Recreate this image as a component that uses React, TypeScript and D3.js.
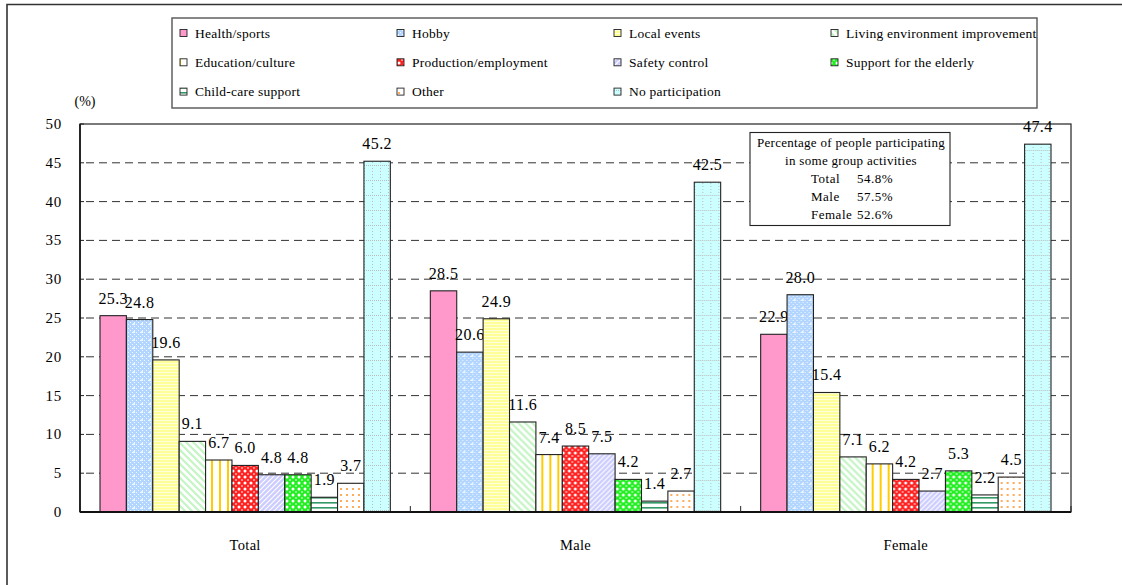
import React from "react";
import * as d3 from "d3";

const categories = ["Total", "Male", "Female"];
const seriesNames = [
  "Health/sports",
  "Hobby",
  "Local events",
  "Living environment improvement",
  "Education/culture",
  "Production/employment",
  "Safety control",
  "Support for the elderly",
  "Child-care support",
  "Other",
  "No participation",
];
const totalValues = [25.3, 24.8, 19.6, 9.1, 6.7, 6.0, 4.8, 4.8, 1.9, 3.7, 45.2];
const maleValues = [28.5, 20.6, 24.9, 11.6, 7.4, 8.5, 7.5, 4.2, 1.4, 2.7, 42.5];
const femaleValues = [22.9, 28.0, 15.4, 7.1, 6.2, 4.2, 2.7, 5.3, 2.2, 4.5, 47.4];
const yTicks = [0, 5, 10, 15, 20, 25, 30, 35, 40, 45, 50];
const boxTitle = ["Percentage of people participating", "in some group activities"];
const boxLabels = ["Total", "Male", "Female"];
const boxValues = ["54.8%", "57.5%", "52.6%"];

const groupValues = [totalValues, maleValues, femaleValues];
const patternIds = seriesNames.map((_, i) => `pat${i}`);

const FONT = "'Liberation Serif', 'Times New Roman', serif";

function Patterns() {
  return (
    <defs>
      <pattern id="pat0" width={4} height={4} patternUnits="userSpaceOnUse">
        <rect width={4} height={4} fill="#FF99CC" />
      </pattern>
      <pattern id="pat1" width={8} height={8} patternUnits="userSpaceOnUse">
        <rect width={8} height={8} fill="#B2D6FF" />
        <rect x={0} y={0} width={1} height={1} fill="#fff" opacity={0.8} />
        <rect x={2} y={2} width={1} height={1} fill="#fff" opacity={0.8} />
        <rect x={4} y={0} width={1} height={1} fill="#fff" opacity={0.8} />
        <rect x={6} y={2} width={1} height={1} fill="#fff" opacity={0.8} />
        <rect x={0} y={4} width={1} height={1} fill="#fff" opacity={0.8} />
        <rect x={4} y={4} width={1} height={1} fill="#fff" opacity={0.8} />
        <rect x={2} y={6} width={1} height={1} fill="#fff" opacity={0.8} />
        <rect x={6} y={6} width={1} height={1} fill="#fff" opacity={0.8} />
        <path d="M5,4 h2 M6,3 v2" stroke="#fff" strokeWidth={1} />
      </pattern>
      <pattern id="pat2" width={4} height={3} patternUnits="userSpaceOnUse">
        <rect width={4} height={3} fill="#FFFF99" />
        <rect y={0} width={4} height={1} fill="#FFFFD8" />
      </pattern>
      <pattern id="pat3" width={7} height={7} patternUnits="userSpaceOnUse">
        <rect width={7} height={7} fill="#fff" />
        <path d="M-1,-1 L8,8 M-1,6 L1,8 M6,-1 L8,1" stroke="#C4F5C4" strokeWidth={2.2} />
      </pattern>
      <pattern id="pat4" width={8} height={4} patternUnits="userSpaceOnUse">
        <rect width={8} height={4} fill="#fff" />
        <rect x={3} width={2} height={4} fill="#FFCC00" />
      </pattern>
      <pattern id="pat5" width={6} height={6} patternUnits="userSpaceOnUse">
        <rect width={6} height={6} fill="#FF2020" />
        <circle cx={3} cy={3} r={1.5} fill="#fff" />
        <circle cx={0} cy={0} r={1} fill="#FFB0B0" />
        <circle cx={6} cy={0} r={1} fill="#FFB0B0" />
        <circle cx={0} cy={6} r={1} fill="#FFB0B0" />
        <circle cx={6} cy={6} r={1} fill="#FFB0B0" />
      </pattern>
      <pattern id="pat6" width={5} height={5} patternUnits="userSpaceOnUse">
        <rect width={5} height={5} fill="#CCCCFF" />
        <path d="M-1,6 L6,-1 M-1,1 L1,-1 M4,6 L6,4" stroke="#fff" strokeWidth={1.2} />
      </pattern>
      <pattern id="pat7" width={6} height={6} patternUnits="userSpaceOnUse">
        <rect width={6} height={6} fill="#22EE22" />
        <circle cx={3} cy={3} r={1.5} fill="#fff" />
        <circle cx={0} cy={0} r={1} fill="#B0FFB0" />
        <circle cx={6} cy={0} r={1} fill="#B0FFB0" />
        <circle cx={0} cy={6} r={1} fill="#B0FFB0" />
        <circle cx={6} cy={6} r={1} fill="#B0FFB0" />
      </pattern>
      <pattern id="pat8" width={6} height={5} patternUnits="userSpaceOnUse">
        <rect width={6} height={5} fill="#fff" />
        <rect y={2} width={6} height={1.6} fill="#339966" />
      </pattern>
      <pattern id="pat9" width={6} height={6} patternUnits="userSpaceOnUse">
        <rect width={6} height={6} fill="#fff" />
        <circle cx={3} cy={3} r={1.1} fill="#FF9933" />
      </pattern>
      <pattern id="pat10" width={8} height={15} patternUnits="userSpaceOnUse">
        <rect width={8} height={15} fill="#CCFFFF" />
        <rect x={0} y={0} width={1} height={1} fill="#BBBBBB" />
        <rect x={2} y={0} width={1} height={1} fill="#BBBBBB" />
        <rect x={4} y={0} width={1} height={1} fill="#BBBBBB" />
        <rect x={6} y={0} width={1} height={1} fill="#BBBBBB" />
        <rect x={4} y={3} width={1} height={1} fill="#BBBBBB" />
        <rect x={4} y={6} width={1} height={1} fill="#BBBBBB" />
        <rect x={4} y={9} width={1} height={1} fill="#BBBBBB" />
        <rect x={4} y={12} width={1} height={1} fill="#BBBBBB" />
      </pattern>
    </defs>
  );
}

export default function App() {
  const W = 1122;
  const H = 585;
  const plot = { left: 80, right: 1071, top: 124, bottom: 512 };

  const y = d3.scaleLinear().domain([0, 50]).range([plot.bottom, plot.top]);
  const x0 = d3
    .scaleBand<string>()
    .domain(categories)
    .range([plot.left, plot.right])
    .paddingInner(0)
    .paddingOuter(0);
  const bw = x0.bandwidth();
  const x1 = d3
    .scaleBand<string>()
    .domain(seriesNames)
    .range([20, bw - 20])
    .padding(0);

  const legendCols = 4;
  const legendX = (i: number) => 180 + (i % legendCols) * 217;
  const legendY = (i: number) => 33 + Math.floor(i / legendCols) * 29.3;

  return (
    <svg
      width={W}
      height={H}
      style={{ position: "absolute", left: 0, top: 0, background: "#fff", fontFamily: FONT }}
    >
      <style>{`text { font-family: ${FONT}; }`}</style>
      <Patterns />
      <rect x={0} y={0} width={W} height={H} fill="#fff" />
      {/* outer frame */}
      <path d={`M7,${H + 5} L7,4.5 L${W + 5},4.5`} fill="none" stroke="#333" strokeWidth={1.6} />

      {/* legend */}
      <rect x={172} y={18} width={865} height={90} fill="#fff" stroke="#555" strokeWidth={1.4} />
      {seriesNames.map((name, i) => (
        <g key={name}>
          <rect
            x={legendX(i)}
            y={legendY(i) - 3.5}
            width={7}
            height={7}
            fill={`url(#${patternIds[i]})`}
            stroke="#222"
            strokeWidth={0.9}
          />
          <text
            x={legendX(i) + 15}
            y={legendY(i) + 4.5}
            fontSize={13.5}
            letterSpacing={0.25}
            fill="#000"
          >
            {name}
          </text>
        </g>
      ))}

      {/* y axis unit */}
      <text x={85} y={106} fontSize={14} textAnchor="middle" fill="#000">
        (%)
      </text>

      {/* gridlines */}
      {yTicks
        .filter((t) => t > 0 && t < 50)
        .map((t) => (
          <line
            key={t}
            x1={plot.left + 6}
            x2={plot.right}
            y1={y(t)}
            y2={y(t)}
            stroke="#333"
            strokeWidth={1}
            strokeDasharray="8,5"
          />
        ))}

      {/* plot frame */}
      <rect
        x={plot.left}
        y={plot.top}
        width={plot.right - plot.left}
        height={plot.bottom - plot.top}
        fill="none"
        stroke="#222"
        strokeWidth={1.2}
      />

      {/* y ticks and labels */}
      {yTicks.map((t) => (
        <g key={t}>
          <line x1={plot.left} x2={plot.left + 4} y1={y(t)} y2={y(t)} stroke="#222" strokeWidth={1} />
          <text
            x={62}
            y={y(t) + 5}
            fontSize={15}
            letterSpacing={0.8}
            textAnchor="end"
            fill="#000"
          >
            {t}
          </text>
        </g>
      ))}

      {/* bars */}
      {categories.map((cat, gi) => (
        <g key={cat} transform={`translate(${x0(cat)},0)`}>
          {seriesNames.map((s, si) => {
            const v = groupValues[gi][si];
            const bx = x1(s)!;
            const top = y(v);
            return (
              <g key={s}>
                <rect
                  x={bx}
                  y={top}
                  width={x1.bandwidth()}
                  height={plot.bottom - top}
                  fill={`url(#${patternIds[si]})`}
                  stroke="#222"
                  strokeWidth={1.1}
                />
                <text
                  x={bx + x1.bandwidth() / 2}
                  y={top - 12}
                  fontSize={16}
                  letterSpacing={0.4}
                  textAnchor="middle"
                  fill="#000"
                >
                  {v.toFixed(1)}
                </text>
              </g>
            );
          })}
        </g>
      ))}

      {/* axis lines on top */}
      <line x1={plot.left} x2={plot.right} y1={plot.bottom} y2={plot.bottom} stroke="#111" strokeWidth={2} />
      <line x1={plot.left} x2={plot.left} y1={plot.top} y2={plot.bottom} stroke="#111" strokeWidth={1.6} />
      {/* category ticks */}
      {[...categories.map((c) => x0(c)!), plot.right].map((xv, i) => (
        <line key={i} x1={xv} x2={xv} y1={plot.bottom} y2={plot.bottom - 6} stroke="#222" strokeWidth={1} />
      ))}
      {/* category labels */}
      {categories.map((c) => (
        <text
          key={c}
          x={x0(c)! + bw / 2}
          y={550}
          fontSize={14.5}
          letterSpacing={0.3}
          textAnchor="middle"
          fill="#000"
        >
          {c}
        </text>
      ))}

      {/* annotation box */}
      <rect x={750} y={132.5} width={200} height={93} fill="#fff" stroke="#222" strokeWidth={1.1} />
      {boxTitle.map((t, i) => (
        <text
          key={t}
          x={851}
          y={147 + i * 18}
          fontSize={13}
          letterSpacing={0.3}
          textAnchor="middle"
          fill="#000"
        >
          {t}
        </text>
      ))}
      {boxLabels.map((l, i) => (
        <g key={l}>
          <text x={811} y={183 + i * 18} fontSize={13} letterSpacing={0.5} fill="#000">
            {l}
          </text>
          <text x={857} y={183 + i * 18} fontSize={13} letterSpacing={0.5} fill="#000">
            {boxValues[i]}
          </text>
        </g>
      ))}
    </svg>
  );
}
